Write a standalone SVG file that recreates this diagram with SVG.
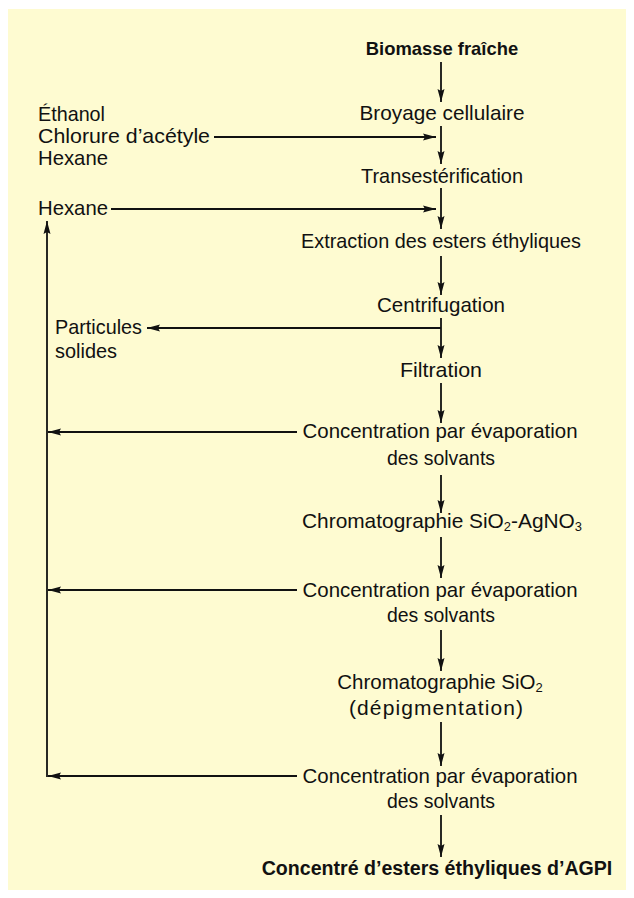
<svg xmlns="http://www.w3.org/2000/svg" width="634" height="898" viewBox="0 0 634 898">
<defs>
<style>
text{font-family:"Liberation Sans",Arial,sans-serif;font-size:21px;fill:#111;}
.c{text-anchor:middle;}
.b{font-weight:bold;}
.ln{stroke:#111;stroke-width:1.8;fill:none;}
.sub{font-size:13px;}
</style>
<marker id="ah" markerUnits="userSpaceOnUse" markerWidth="14" markerHeight="9" refX="13" refY="4" orient="auto">
<path d="M0,0.5 L13,4 L0,7.5 L2,4 Z" fill="#111"/>
</marker>
</defs>
<rect x="0" y="0" width="634" height="898" fill="#ffffff"/>
<rect x="8" y="9" width="618" height="881" fill="#fefbd1"/>

<g id="connectors">
<line class="ln" x1="441" y1="62" x2="441" y2="102" marker-end="url(#ah)"/>
<line class="ln" x1="441" y1="126" x2="441" y2="164" marker-end="url(#ah)"/>
<line class="ln" x1="214" y1="137" x2="436" y2="137" marker-end="url(#ah)"/>
<line class="ln" x1="441" y1="188" x2="441" y2="229" marker-end="url(#ah)"/>
<line class="ln" x1="111" y1="209" x2="436" y2="209" marker-end="url(#ah)"/>
<line class="ln" x1="441" y1="256" x2="441" y2="295" marker-end="url(#ah)"/>
<line class="ln" x1="441" y1="318" x2="441" y2="358" marker-end="url(#ah)"/>
<line class="ln" x1="441" y1="328" x2="147" y2="328" marker-end="url(#ah)"/>
<line class="ln" x1="441" y1="383" x2="441" y2="423" marker-end="url(#ah)"/>
<line class="ln" x1="297" y1="432" x2="48" y2="432" marker-end="url(#ah)"/>
<line class="ln" x1="441" y1="475" x2="441" y2="513" marker-end="url(#ah)"/>
<line class="ln" x1="441" y1="537" x2="441" y2="578" marker-end="url(#ah)"/>
<line class="ln" x1="297" y1="590" x2="48" y2="590" marker-end="url(#ah)"/>
<line class="ln" x1="441" y1="630" x2="441" y2="671" marker-end="url(#ah)"/>
<line class="ln" x1="441" y1="722" x2="441" y2="766" marker-end="url(#ah)"/>
<line class="ln" x1="297" y1="776" x2="48" y2="776" marker-end="url(#ah)"/>
<line class="ln" x1="441" y1="815" x2="441" y2="857" marker-end="url(#ah)"/>
<line class="ln" x1="47" y1="777" x2="47" y2="221" marker-end="url(#ah)"/>
</g>

<g id="n-biomasse"><text class="c b" x="442" y="55" style="font-size:18.4px">Biomasse fraîche</text></g>
<g id="n-broyage"><text class="c" x="442" y="120" textLength="165" lengthAdjust="spacingAndGlyphs">Broyage cellulaire</text></g>
<g id="n-reactifs">
<text x="38" y="121" textLength="67" lengthAdjust="spacingAndGlyphs">Éthanol</text>
<text x="38" y="143" textLength="172" lengthAdjust="spacingAndGlyphs">Chlorure d’acétyle</text>
<text x="38" y="165" textLength="70" lengthAdjust="spacingAndGlyphs">Hexane</text>
</g>
<g id="n-trans"><text class="c" x="442" y="183" textLength="162" lengthAdjust="spacingAndGlyphs">Transestérification</text></g>
<g id="n-hexane"><text x="38" y="215" textLength="70" lengthAdjust="spacingAndGlyphs">Hexane</text></g>
<g id="n-extraction"><text class="c" x="441" y="248" textLength="280" lengthAdjust="spacingAndGlyphs">Extraction des esters éthyliques</text></g>
<g id="n-centri"><text class="c" x="441" y="312" textLength="128" lengthAdjust="spacingAndGlyphs">Centrifugation</text></g>
<g id="n-particules">
<text x="55" y="334" textLength="87" lengthAdjust="spacingAndGlyphs">Particules</text>
<text x="55" y="358" textLength="62" lengthAdjust="spacingAndGlyphs">solides</text>
</g>
<g id="n-filtration"><text class="c" x="441" y="377" textLength="82" lengthAdjust="spacingAndGlyphs">Filtration</text></g>
<g id="n-conc1">
<text class="c" x="440" y="438" textLength="275" lengthAdjust="spacingAndGlyphs">Concentration par évaporation</text>
<text class="c" x="441" y="465" textLength="108" lengthAdjust="spacingAndGlyphs">des solvants</text>
</g>
<g id="n-chroma1"><text class="c" x="442" y="528" textLength="280" lengthAdjust="spacingAndGlyphs">Chromatographie SiO<tspan class="sub" dy="3">2</tspan><tspan dy="-3">-AgNO</tspan><tspan class="sub" dy="3">3</tspan></text></g>
<g id="n-conc2">
<text class="c" x="440" y="597" textLength="275" lengthAdjust="spacingAndGlyphs">Concentration par évaporation</text>
<text class="c" x="441" y="622" textLength="108" lengthAdjust="spacingAndGlyphs">des solvants</text>
</g>
<g id="n-chroma2">
<text class="c" x="440" y="689" style="font-size:20.5px">Chromatographie SiO<tspan class="sub" dy="3">2</tspan></text>
<text class="c" x="436" y="715" textLength="174" lengthAdjust="spacing">(dépigmentation)</text>
</g>
<g id="n-conc3">
<text class="c" x="440" y="783" textLength="275" lengthAdjust="spacingAndGlyphs">Concentration par évaporation</text>
<text class="c" x="441" y="808" textLength="108" lengthAdjust="spacingAndGlyphs">des solvants</text>
</g>
<g id="n-final"><text class="c b" x="437" y="875" style="font-size:19.6px">Concentré d’esters éthyliques d’AGPI</text></g>
</svg>
